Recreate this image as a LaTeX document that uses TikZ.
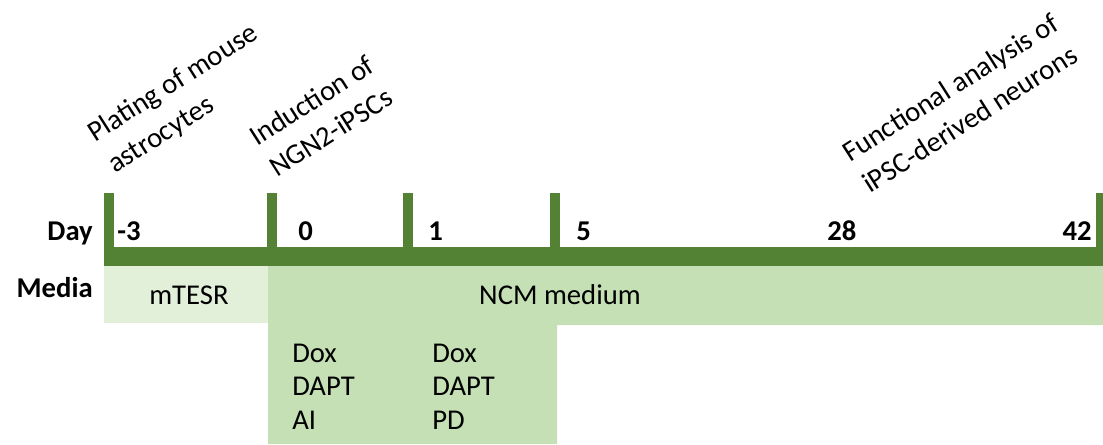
\documentclass[tikz,border=0pt]{standalone}
\usepackage{fontspec}
\setmainfont{Carlito}
\definecolor{darkgreen}{HTML}{548235}
\definecolor{midgreen}{HTML}{C5E0B4}
\definecolor{palegreen}{HTML}{E2F0D9}
\begin{document}
\begin{tikzpicture}[x=0.75pt,y=-0.75pt,
  txt/.style={font=\fontsize{21.5}{26.5}\selectfont, inner sep=0pt, text=black},
  bld/.style={txt, font=\fontsize{21.5}{26.5}\selectfont\bfseries},
  lbl/.style={txt, font=\fontsize{21.5}{27.7}\selectfont, rotate=32.5, anchor=base west, align=left},
  listtxt/.style={txt, font=\fontsize{21.5}{25}\selectfont, anchor=base west, align=left},
  barfill/.style={fill=darkgreen}]
\useasboundingbox (0,0) rectangle (1103,444);
% media boxes
\fill[palegreen] (104,266) rectangle (268,323);
\fill[midgreen] (268,266) -- (1103,266) -- (1103,325) -- (557,325) -- (557,444) -- (268,444) -- cycle;
% timeline bar and ticks
\fill[barfill] (104,247) rectangle (1103,266);
\foreach \a/\b in {104/114, 267/277, 403/413, 550/560, 1096/1103}
  \fill[barfill] (\a,193) rectangle (\b,266);
% row labels
\node[bld, anchor=base east] (day) at (93,240) {Day};
\node[bld, anchor=base east] (media) at (93,297) {Media};
% day numbers
\node[bld, anchor=base west] (dm3) at (117,240) {-3};
\node[bld, anchor=base west] (d0) at (298,240) {0};
\node[bld, anchor=base west] (d1) at (428,240) {1};
\node[bld, anchor=base west] (d5) at (576,240) {5};
\node[bld, anchor=base west] (d28) at (827,240) {28};
\node[bld, anchor=base east] (d42) at (1092,240) {42};
% media texts
\node[txt, anchor=base] (mtesr) at (189,304) {mTESR};
\node[txt, anchor=base] (ncm) at (560,304) {NCM medium};
% (base anchor of a multi-line node = baseline of its last line)
\node[listtxt] (mixA) at (292,429) {Dox\\DAPT\\AI};
\node[listtxt] (mixB) at (432,429) {Dox\\DAPT\\PD};
% rotated event labels
\node[lbl] (plating) at (115,174) {Plating of mouse\\astrocytes};
\node[lbl] (induction) at (277,178) {Induction of\\NGN2-iPSCs};
\node[lbl] (functional) at (870,194) {Functional analysis of\\iPSC-derived neurons};
\end{tikzpicture}
\end{document}
